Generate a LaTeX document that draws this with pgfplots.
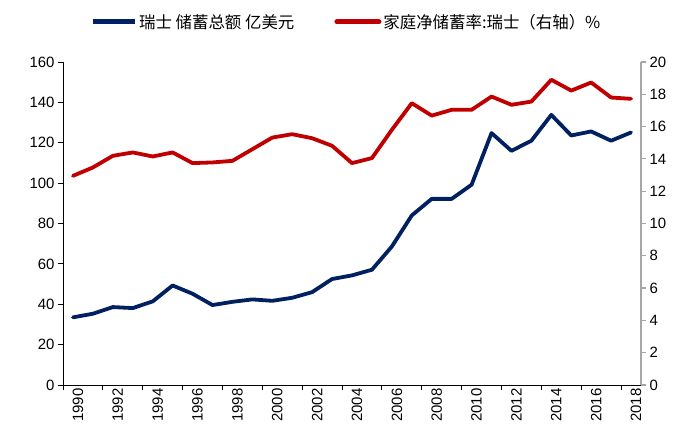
\documentclass[border=0pt]{standalone}
\usepackage{pgfplots}
\pgfplotsset{compat=1.18}
\usepackage{pgfplotstable}
\usepackage{fontspec}
\setmainfont{Liberation Sans}
\newfontfamily\cjk{Noto Sans CJK SC}
\definecolor{navy}{HTML}{002060}
\definecolor{dred}{HTML}{C00000}
\definecolor{axgray}{HTML}{A6A6A6}

\pgfplotstableread{
year blue red
1990 33.5 12.95
1991 35.3 13.47
1992 38.6 14.19
1993 38.1 14.40
1994 41.4 14.15
1995 49.3 14.40
1996 45.2 13.74
1997 39.6 13.78
1998 41.2 13.88
1999 42.4 14.60
2000 41.7 15.32
2001 43.2 15.53
2002 46.0 15.28
2003 52.5 14.81
2004 54.3 13.74
2005 57.1 14.05
2006 68.6 15.80
2007 84.0 17.45
2008 92.2 16.68
2009 92.2 17.04
2010 99.2 17.04
2011 124.8 17.86
2012 116.0 17.35
2013 121.0 17.55
2014 133.8 18.90
2015 123.6 18.23
2016 125.6 18.73
2017 121.0 17.80
2018 125.1 17.72
}\data

\pgfplotsset{base/.style={
  width=578bp, height=323bp, scale only axis,
  xmin=1989.5, xmax=2018.5,
  at={(0,0)}, anchor=south west,
  font=\fontsize{15}{18}\selectfont,
  /pgf/number format/assume math mode=true,
  tick align=outside,
  major tick length=5bp,
  clip=false,
}}

\begin{document}
\begin{tikzpicture}
\begin{axis}[base,
  ymin=0, ymax=160, ytick={0,20,...,160},
  axis y line*=left, axis x line*=bottom,
  axis line style={line width=0.8bp, black},
  tick style={line width=0.8bp, black},
  xtick={1989.5,1991.5,1993.5,1995.5,1997.5,1999.5,2001.5,2003.5,2005.5,2007.5,2009.5,2011.5,2013.5,2015.5,2017.5},
  xticklabels={,,,,,,,,,,,,,,,},
  extra x ticks={1990,1992,1994,1996,1998,2000,2002,2004,2006,2008,2010,2012,2014,2016,2018},
  extra x tick labels={1990,1992,1994,1996,1998,2000,2002,2004,2006,2008,2010,2012,2014,2016,2018},
  extra x tick style={major tick length=0pt, tick label style={rotate=90, anchor=east, yshift=-5bp}},
]
\addplot[navy, line width=3.8bp, line join=round, line cap=round] table[x=year, y=blue] {\data};
\end{axis}
\begin{axis}[base,
  ymin=0, ymax=20, ytick={0,2,...,20},
  axis y line*=right, axis x line=none,
  y axis line style={line width=1.2bp, axgray},
  ytick style={line width=1.2bp, axgray},
  legend columns=2,
  legend style={at={(0.49,1.124)}, anchor=center, draw=none, fill=none,
    font=\cjk\fontsize{16.5}{19}\selectfont,
    /tikz/every even column/.append style={column sep=38bp}},
  legend image code/.code={\draw[#1, line width=5bp] (0bp,0bp) -- (42bp,0bp);},
]
\addlegendimage{navy}
\addlegendentry{瑞士 储蓄总额 亿美元}
\addplot[dred, line width=3.8bp, line join=round, line cap=round] table[x=year, y=red] {\data};
\addlegendentry{家庭净储蓄率:瑞士（右轴）\%}
\end{axis}
\pgfresetboundingbox
\useasboundingbox (-63bp,-53bp) rectangle (635bp,385bp);
\end{tikzpicture}
\end{document}
